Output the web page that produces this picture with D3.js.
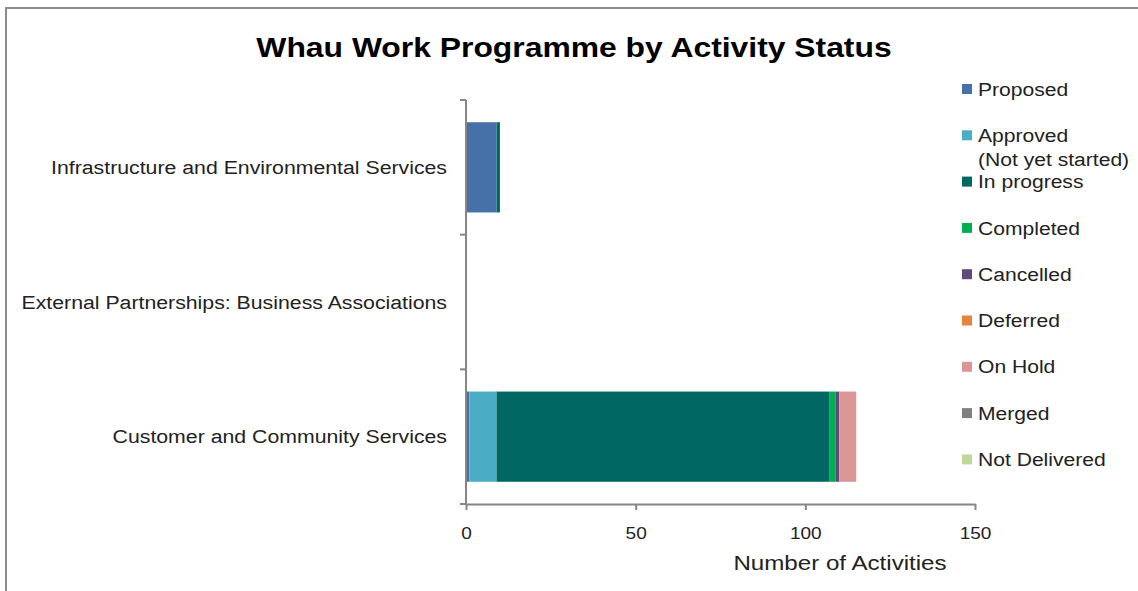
<!DOCTYPE html>
<html>
<head>
<meta charset="utf-8">
<script src="https://cdn.jsdelivr.net/npm/d3@7"></script>
<style>
	body { margin: 0; background: #fff; }
	svg { display: block; font-family: "Liberation Sans", Arial, sans-serif; }
</style>
</head>
<body>
<div id="chart"></div>
<script>

// DATA

const categories = [
	'Infrastructure and Environmental Services',
	'External Partnerships: Business Associations',
	'Customer and Community Services'
];

const statuses = ['Proposed', 'Approved (Not yet started)', 'In progress', 'Completed', 'Cancelled', 'Deferred', 'On Hold', 'Merged', 'Not Delivered'];

const statusColors = ['#4671a8', '#4bacc6', '#006763', '#00b050', '#604a7b', '#e5843f', '#d99694', '#808080', '#c3d69b'];

const proposed = [9, 0, 1],
			approved = [0, 0, 8],
			inProgress = [1, 0, 98],
			completed = [0, 0, 2],
			cancelled = [0, 0, 1],
			deferred = [0, 0, 0],
			onHold = [0, 0, 5],
			merged = [0, 0, 0],
			notDelivered = [0, 0, 0];

const xTicks = [0, 50, 100, 150];

// CHART

const width = 1138, height = 591,
			margin = { top: 100, left: 466, right: 163, bottom: 87 },
			stretch = 1.12; // the text in the picture is drawn a little wide

const rows = categories.map((c, i) => ({
	category: c,
	'Proposed': proposed[i],
	'Approved (Not yet started)': approved[i],
	'In progress': inProgress[i],
	'Completed': completed[i],
	'Cancelled': cancelled[i],
	'Deferred': deferred[i],
	'On Hold': onHold[i],
	'Merged': merged[i],
	'Not Delivered': notDelivered[i]
}));

const stacked = d3.stack().keys(statuses)(rows);

const svg = d3.select('#chart')
	.append('svg')
	.attr('width', width)
	.attr('height', height);

// frame
svg.append('path')
	.attr('d', `M6,${height + 5} V8 H${width + 5}`)
	.attr('fill', 'none')
	.attr('stroke', '#8c8c8c')
	.attr('stroke-width', 2);

svg.append('text')
	.attr('transform', 'translate(574,57) scale(1.18,1)')
	.attr('text-anchor', 'middle')
	.attr('font-size', 27)
	.attr('font-weight', 'bold')
	.attr('fill', '#000')
	.text('Whau Work Programme by Activity Status');

const x = d3.scaleLinear()
	.domain([0, 150])
	.range([margin.left, 975]);

const y = d3.scaleBand()
	.domain(categories)
	.range([margin.top, 504])
	.paddingInner(0.33)
	.paddingOuter(0.165);

// bars
svg.append('g')
	.selectAll('g')
	.data(stacked)
	.join('g')
	.attr('fill', (d, i) => statusColors[i])
	.selectAll('rect')
	.data(d => d)
	.join('rect')
	.attr('x', d => x(d[0]))
	.attr('y', d => y(d.data.category))
	.attr('width', d => x(d[1]) - x(d[0]))
	.attr('height', y.bandwidth());

// y axis
const yAxis = svg.append('g')
	.attr('transform', `translate(${margin.left},0)`);

yAxis.append('line')
	.attr('y1', margin.top)
	.attr('y2', 504)
	.attr('stroke', '#868686')
	.attr('stroke-width', 2);

const yTickPos = d3.range(categories.length + 1).map(i => margin.top + i * (504 - margin.top) / categories.length);

yAxis.selectAll('.tick')
	.data(yTickPos)
	.join('line')
	.attr('x1', -6)
	.attr('x2', 0)
	.attr('y1', d => d)
	.attr('y2', d => d)
	.attr('stroke', '#868686')
	.attr('stroke-width', 2);

yAxis.selectAll('.lab')
	.data(categories)
	.join('text')
	.attr('transform', d => `translate(-19,${y(d) + y.bandwidth() / 2}) scale(${stretch},1)`)
	.attr('dy', '0.35em')
	.attr('text-anchor', 'end')
	.attr('font-size', 19)
	.attr('fill', '#222')
	.text(d => d);

// x axis
const xAxis = svg.append('g')
	.attr('transform', 'translate(0,504)')
	.call(d3.axisBottom(x).tickValues(xTicks).tickSize(6).tickSizeOuter(0).tickPadding(17));

xAxis.select('.domain').attr('stroke', '#868686').attr('stroke-width', 2);
xAxis.selectAll('.tick line').attr('stroke', '#868686').attr('stroke-width', 2);
xAxis.selectAll('.tick text')
	.attr('transform', `scale(${stretch},1)`)
	.attr('font-size', 17)
	.attr('font-family', '"Liberation Sans", Arial, sans-serif')
	.attr('fill', '#222');

svg.append('text')
	.attr('transform', `translate(840,570) scale(1.15,1)`)
	.attr('text-anchor', 'middle')
	.attr('font-size', 21)
	.attr('fill', '#222')
	.text('Number of Activities');

// legend
const legendLines = [['Proposed'], ['Approved', '(Not yet started)'], ['In progress'], ['Completed'], ['Cancelled'], ['Deferred'], ['On Hold'], ['Merged'], ['Not Delivered']];

const legend = svg.append('g')
	.selectAll('g')
	.data(statuses)
	.join('g')
	.attr('transform', (d, i) => `translate(962,${89 + i * 46.3})`);

legend.append('rect')
	.attr('x', 0)
	.attr('y', -5)
	.attr('width', 10)
	.attr('height', 10)
	.attr('fill', (d, i) => statusColors[i]);

legend.append('text')
	.attr('transform', `translate(16,0) scale(1.11,1)`)
	.attr('font-size', 19)
	.attr('fill', '#222')
	.selectAll('tspan')
	.data((d, i) => legendLines[i])
	.join('tspan')
	.attr('x', 0)
	.attr('dy', (d, j) => j === 0 ? '0.35em' : '1.25em')
	.text(d => d);

</script>
</body>
</html>
